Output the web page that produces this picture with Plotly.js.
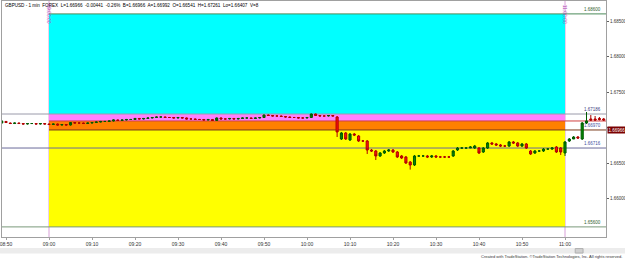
<!DOCTYPE html>
<html><head><meta charset="utf-8">
<script src="https://cdn.plot.ly/plotly-3.0.1.min.js"></script>
<style>html,body{margin:0;padding:0;background:#fff;}#chart{width:625px;height:260px;}</style>
</head><body><div id="chart"></div>
<script>
const day = '2014-01-20 ';
const times = [
'08:49','08:50','08:51','08:52','08:53','08:54','08:55','08:56','08:57','08:58','08:59',
'09:00','09:01','09:02','09:03','09:04','09:05','09:06','09:07','09:08','09:09',
'09:10','09:11','09:12','09:13','09:14','09:15','09:16','09:17','09:18','09:19',
'09:20','09:21','09:22','09:23','09:24','09:25','09:26','09:27','09:28','09:29',
'09:30','09:31','09:32','09:33','09:34','09:35','09:36','09:37','09:38','09:39',
'09:40','09:41','09:42','09:43','09:44','09:45','09:46','09:47','09:48','09:49',
'09:50','09:51','09:52','09:53','09:54','09:55','09:56','09:57','09:58','09:59',
'10:00','10:01','10:02','10:03','10:04','10:05','10:06','10:07','10:08','10:09',
'10:10','10:11','10:12','10:13','10:14','10:15','10:16','10:17','10:18','10:19',
'10:20','10:21','10:22','10:23','10:24','10:25','10:26','10:27','10:28','10:29',
'10:30','10:31','10:32','10:33','10:34','10:35','10:36','10:37','10:38','10:39',
'10:40','10:41','10:42','10:43','10:44','10:45','10:46','10:47','10:48','10:49',
'10:50','10:51','10:52','10:53','10:54','10:55','10:56','10:57','10:58','10:59',
'11:00','11:01','11:02','11:03','11:04','11:05','11:06','11:07','11:08','11:09'];
const opens = [
1.67063,1.67085,1.67063,1.67056,1.67063,1.67056,1.67049,1.67056,1.67056,1.67049,1.67056,
1.67049,1.67042,1.67049,1.67035,1.67042,1.67035,1.67070,1.67063,1.67063,1.67056,
1.67063,1.67070,1.67077,1.67085,1.67085,1.67092,1.67106,1.67099,1.67106,1.67113,
1.67113,1.67127,1.67120,1.67127,1.67134,1.67141,1.67148,1.67148,1.67141,1.67141,
1.67134,1.67141,1.67134,1.67120,1.67120,1.67113,1.67113,1.67106,1.67113,1.67099,
1.67134,1.67120,1.67120,1.67127,1.67120,1.67127,1.67134,1.67134,1.67127,1.67134,
1.67141,1.67176,1.67169,1.67162,1.67162,1.67155,1.67148,1.67141,1.67141,1.67134,
1.67134,1.67141,1.67190,1.67169,1.67162,1.67162,1.67169,1.67148,1.66838,1.66923,
1.66824,1.66908,1.66880,1.66810,1.66810,1.66683,1.66669,1.66599,1.66641,1.66669,
1.66683,1.66655,1.66599,1.66585,1.66514,1.66472,1.66599,1.66599,1.66599,1.66585,
1.66599,1.66585,1.66585,1.66585,1.66599,1.66683,1.66711,1.66711,1.66711,1.66711,
1.66711,1.66655,1.66711,1.66782,1.66768,1.66754,1.66739,1.66739,1.66796,1.66782,
1.66739,1.66768,1.66669,1.66641,1.66669,1.66669,1.66697,1.66697,1.66725,1.66711,
1.66641,1.66810,1.66838,1.66866,1.66838,1.67063,1.67120,1.67120,1.67127,1.67120];
const highs = [
1.67099,1.67092,1.67070,1.67070,1.67070,1.67063,1.67063,1.67063,1.67063,1.67063,1.67063,
1.67056,1.67056,1.67056,1.67049,1.67049,1.67077,1.67077,1.67070,1.67070,1.67070,
1.67077,1.67085,1.67092,1.67092,1.67099,1.67113,1.67113,1.67113,1.67120,1.67120,
1.67134,1.67134,1.67134,1.67141,1.67148,1.67155,1.67155,1.67155,1.67148,1.67148,
1.67148,1.67148,1.67141,1.67127,1.67127,1.67120,1.67120,1.67120,1.67120,1.67141,
1.67141,1.67127,1.67134,1.67134,1.67134,1.67141,1.67141,1.67141,1.67141,1.67148,
1.67183,1.67183,1.67176,1.67169,1.67169,1.67162,1.67155,1.67148,1.67148,1.67141,
1.67148,1.67197,1.67197,1.67176,1.67169,1.67176,1.67176,1.67162,1.66937,1.66937,
1.66923,1.66923,1.66894,1.66824,1.66824,1.66697,1.66683,1.66655,1.66683,1.66697,
1.66697,1.66669,1.66613,1.66599,1.66528,1.66613,1.66613,1.66613,1.66613,1.66613,
1.66613,1.66599,1.66599,1.66599,1.66683,1.66725,1.66725,1.66725,1.66739,1.66754,
1.66725,1.66725,1.66796,1.66796,1.66782,1.66768,1.66754,1.66810,1.66810,1.66796,
1.66782,1.66782,1.66683,1.66683,1.66683,1.66711,1.66711,1.66725,1.66739,1.66725,
1.66810,1.66852,1.66880,1.66880,1.67077,1.67218,1.67176,1.67162,1.67148,1.67134];
const lows = [
1.67056,1.67063,1.67049,1.67049,1.67049,1.67042,1.67042,1.67049,1.67042,1.67042,1.67042,
1.67035,1.67035,1.67028,1.67028,1.67028,1.67028,1.67056,1.67056,1.67049,1.67049,
1.67056,1.67063,1.67070,1.67077,1.67077,1.67085,1.67092,1.67092,1.67099,1.67106,
1.67106,1.67113,1.67113,1.67120,1.67127,1.67134,1.67141,1.67134,1.67134,1.67127,
1.67127,1.67127,1.67113,1.67113,1.67106,1.67106,1.67099,1.67099,1.67092,1.67092,
1.67113,1.67113,1.67113,1.67113,1.67113,1.67120,1.67127,1.67120,1.67120,1.67127,
1.67134,1.67162,1.67155,1.67155,1.67148,1.67141,1.67134,1.67134,1.67127,1.67127,
1.67127,1.67134,1.67162,1.67155,1.67155,1.67155,1.67155,1.66866,1.66824,1.66824,
1.66810,1.66880,1.66796,1.66796,1.66627,1.66655,1.66542,1.66585,1.66627,1.66655,
1.66641,1.66570,1.66556,1.66486,1.66407,1.66458,1.66585,1.66585,1.66570,1.66570,
1.66570,1.66570,1.66570,1.66570,1.66585,1.66669,1.66697,1.66697,1.66711,1.66697,
1.66627,1.66641,1.66697,1.66754,1.66739,1.66725,1.66725,1.66725,1.66768,1.66725,
1.66725,1.66697,1.66613,1.66627,1.66655,1.66655,1.66683,1.66683,1.66641,1.66613,
1.66599,1.66796,1.66852,1.66838,1.66824,1.67049,1.67092,1.67092,1.67099,1.67092];
const closes = [
1.67092,1.67070,1.67056,1.67063,1.67056,1.67049,1.67056,1.67056,1.67049,1.67056,1.67049,
1.67042,1.67049,1.67035,1.67042,1.67035,1.67070,1.67063,1.67063,1.67056,1.67063,
1.67070,1.67077,1.67085,1.67085,1.67092,1.67106,1.67099,1.67106,1.67113,1.67113,
1.67127,1.67120,1.67127,1.67134,1.67141,1.67148,1.67148,1.67141,1.67141,1.67134,
1.67141,1.67134,1.67120,1.67120,1.67113,1.67113,1.67106,1.67113,1.67099,1.67134,
1.67120,1.67120,1.67127,1.67120,1.67127,1.67134,1.67134,1.67127,1.67134,1.67141,
1.67176,1.67169,1.67162,1.67162,1.67155,1.67148,1.67141,1.67141,1.67134,1.67134,
1.67141,1.67190,1.67169,1.67162,1.67162,1.67169,1.67162,1.66937,1.66923,1.66838,
1.66908,1.66894,1.66810,1.66810,1.66683,1.66669,1.66599,1.66641,1.66669,1.66683,
1.66655,1.66585,1.66570,1.66500,1.66472,1.66599,1.66599,1.66599,1.66585,1.66599,
1.66585,1.66585,1.66585,1.66585,1.66669,1.66711,1.66711,1.66711,1.66725,1.66739,
1.66641,1.66711,1.66782,1.66768,1.66754,1.66739,1.66739,1.66796,1.66782,1.66739,
1.66768,1.66711,1.66627,1.66669,1.66669,1.66697,1.66697,1.66711,1.66655,1.66655,
1.66796,1.66838,1.66866,1.66852,1.67063,1.67092,1.67106,1.67106,1.67113,1.67106];

// price levels
const levelTop = 1.68600, levelPinkTop = 1.67190, levelOrangeTop = 1.67092,
      levelYellowTop = 1.66965, levelMid = 1.66711, levelBottom = 1.65600;
const lastPrice = 1.66966;
const yTicks = [1.685, 1.680, 1.675, 1.670, 1.665, 1.660];
const yTickText = ['1.68500','1.68000','1.67500','','1.66500','1.66000'];
const xTicks = ['08:50','09:00','09:10','09:20','09:30','09:40','09:50','10:00','10:10','10:20','10:30','10:40','10:50','11:00'];
const sessionStart = '09:00', sessionEnd = '11:00';
const titleText = 'GBPUSD - 1 min  FOREX  L=1.66966  -0.00441  -0.26%  B=1.66966  A=1.66992  O=1.66541  H=1.67261  Lo=1.66407  V=8';

const xs = times.map(t => day + t);
const X0 = day + '08:49:04', X1 = day + '11:09:32';
const xS = day + sessionStart, xE = day + sessionEnd;

const trace = {
  type: 'candlestick', x: xs, open: opens, high: highs, low: lows, close: closes,
  increasing: {line: {color: '#005a00', width: 1}, fillcolor: '#008a00'},
  decreasing: {line: {color: '#b00000', width: 1}, fillcolor: '#ff1010'},
  whiskerwidth: 0, hoverinfo: 'none', showlegend: false
};

function band(y0, y1, color) {
  return {type: 'rect', xref: 'x', yref: 'y', x0: xS, x1: xE, y0: y0, y1: y1,
          fillcolor: color, line: {width: 0}, layer: 'below'};
}
function hline(y, color, x0, x1) {
  return {type: 'line', xref: 'x', yref: 'y', x0: x0, x1: x1, y0: y, y1: y,
          line: {color: color, width: 1}, layer: 'below'};
}
const shapes = [
  band(levelPinkTop, levelTop, '#00ffff'),
  band(levelOrangeTop, levelPinkTop, '#ff80ff'),
  band(levelYellowTop, levelOrangeTop, '#ff8000'),
  band(levelBottom, levelYellowTop, '#ffff00'),
  hline(levelTop, '#4a8a5a', xS, X1),
  hline(levelPinkTop, '#9a9aaa', X0, X1),
  hline(levelOrangeTop, '#d04040', xS, X1),
  hline(levelYellowTop, '#7a3a1a', xS, X1),
  hline(levelMid, '#6a6a9a', X0, X1),
  hline(levelBottom, '#7a9a7a', X0, X1),
  {type: 'line', xref: 'x', yref: 'paper', x0: xS, x1: xS, y0: 0, y1: 1, line: {color: '#d8a0d8', width: 1}, layer: 'below'},
  {type: 'line', xref: 'x', yref: 'paper', x0: xE, x1: xE, y0: 0, y1: 1, line: {color: '#d8a0d8', width: 1}, layer: 'below'},
  // scroll bar
  {type: 'rect', xref: 'paper', yref: 'paper', x0: -0.0033, x1: 1.0315, y0: -0.070, y1: -0.047, fillcolor: '#ececec', line: {width: 0}},
  {type: 'rect', xref: 'paper', yref: 'paper', x0: 0.949, x1: 0.962, y0: -0.068, y1: -0.049, fillcolor: '#d0d0d0', line: {color: '#b0b0b0', width: 1}}
];

const F = 'Liberation Sans, Arial, sans-serif';
const annotations = [
  {xref: 'paper', yref: 'paper', x: 0.002, y: 0.998, xanchor: 'left', yanchor: 'top', text: titleText,
   showarrow: false, font: {family: F, size: 4.6, color: '#000'}},
  {xref: 'x', yref: 'paper', x: xS, y: 0.995, xanchor: 'center', yanchor: 'top', text: '09:00:00', textangle: 90,
   showarrow: false, font: {family: F, size: 5, color: '#b040b0'}},
  {xref: 'x', yref: 'paper', x: xE, y: 0.995, xanchor: 'center', yanchor: 'top', text: '11:00:00', textangle: 90,
   showarrow: false, font: {family: F, size: 5, color: '#b040b0'}},
  {xref: 'paper', yref: 'y', x: 0.995, y: levelTop, xanchor: 'right', yanchor: 'bottom', text: '1.68600',
   showarrow: false, font: {family: F, size: 4.5, color: '#306030'}},
  {xref: 'paper', yref: 'y', x: 0.995, y: levelPinkTop, xanchor: 'right', yanchor: 'bottom', text: '1.67186',
   showarrow: false, font: {family: F, size: 4.5, color: '#404080'}},
  {xref: 'paper', yref: 'y', x: 0.995, y: levelYellowTop, xanchor: 'right', yanchor: 'bottom', text: '1.66970',
   showarrow: false, font: {family: F, size: 4.5, color: '#4050a0'}},
  {xref: 'paper', yref: 'y', x: 0.995, y: levelMid, xanchor: 'right', yanchor: 'bottom', text: '1.66716',
   showarrow: false, font: {family: F, size: 4.5, color: '#4050a0'}},
  {xref: 'paper', yref: 'y', x: 0.995, y: levelBottom, xanchor: 'right', yanchor: 'bottom', text: '1.65600',
   showarrow: false, font: {family: F, size: 4.5, color: '#306030'}},
  {xref: 'paper', yref: 'y', x: 1.0015, y: lastPrice, xanchor: 'left', yanchor: 'middle', text: '1.66966',
   showarrow: false, bgcolor: '#7a0000', borderpad: 0.5, font: {family: F, size: 4.5, color: '#fff'}},
  {xref: 'paper', yref: 'paper', x: 1.0298, y: -0.081, xanchor: 'right', yanchor: 'middle',
   text: 'Created with TradeStation. \u00a9TradeStation Technologies, Inc. All rights reserved.',
   showarrow: false, font: {family: F, size: 4, color: '#333'}}
];

const layout = {
  width: 625, height: 260,
  margin: {l: 2, r: 19, t: 1, b: 23, pad: 0},
  paper_bgcolor: '#ffffff', plot_bgcolor: '#ffffff',
  showlegend: false,
  xaxis: {type: 'date', range: [X0, X1], rangeslider: {visible: false},
    tickmode: 'array', tickvals: xTicks.map(t => day + t), ticktext: xTicks,
    ticklabeloverflow: 'allow',
    showgrid: false, zeroline: false, showline: true, mirror: true, linecolor: '#a0a0a0', linewidth: 1,
    ticks: 'outside', ticklen: 2, tickcolor: '#a0a0a0',
    tickfont: {family: F, size: 5, color: '#333'}, fixedrange: true},
  yaxis: {side: 'right', range: [1.654577, 1.687817],
    tickvals: yTicks, ticktext: yTickText,
    showgrid: false, zeroline: false, showline: true, mirror: true, linecolor: '#a0a0a0', linewidth: 1,
    ticks: 'outside', ticklen: 2, tickcolor: '#606060',
    tickfont: {family: F, size: 4.5, color: '#333'}, fixedrange: true},
  shapes: shapes,
  annotations: annotations
};

Plotly.newPlot('chart', [trace], layout, {staticPlot: true, displayModeBar: false});
</script>
</body></html>
